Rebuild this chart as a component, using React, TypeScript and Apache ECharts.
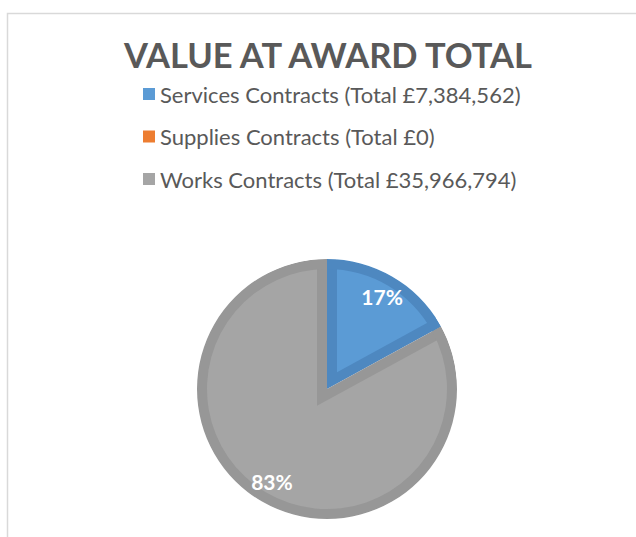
import React, { useEffect, useRef } from "react";
import * as echarts from "echarts";

const titleText = "VALUE AT AWARD TOTAL";
const categories = [
  "Services Contracts (Total £7,384,562)",
  "Supplies Contracts (Total £0)",
  "Works Contracts (Total £35,966,794)",
];
const values = [7384562, 0, 35966794];
const fillColors = ["#5B9BD5", "#ED7D31", "#A5A5A5"];
const edgeColors = ["#4E88C0", "#D5702C", "#979797"];

const FONT = "Lato";

export default function App() {
  const ref = useRef<HTMLDivElement>(null);
  useEffect(() => {
    if (!ref.current) return;
    const chart = echarts.init(ref.current, null, { renderer: "svg" });
    const cx = 327;
    const cy = 389;
    const R = 130;
    const D = 10;
    const total = values.reduce((a, b) => a + b, 0);

    const base = (colors: string[]) =>
      categories.map((name, i) => ({
        name,
        value: values[i],
        itemStyle: { color: colors[i] },
      }));

    const transparent = categories.map(() => "rgba(0,0,0,0)");

    // inset light wedges: shifted along each slice bisector
    const insetSeries: any[] = [];
    let cum = 0;
    let maxShift = 0;
    values.forEach((v, i) => {
      const frac = v / total;
      const start = cum * 2 * Math.PI;
      const end = (cum + frac) * 2 * Math.PI;
      cum += frac;
      if (v <= 0) return;
      const mid = (start + end) / 2;
      const half = (end - start) / 2;
      const s = D / Math.sin(half);
      maxShift = Math.max(maxShift, s);
      const colors = transparent.slice();
      colors[i] = fillColors[i];
      insetSeries.push({
        type: "pie",
        silent: true,
        z: 2,
        startAngle: 90,
        clockwise: true,
        center: [cx + s * Math.sin(mid), cy - s * Math.cos(mid)],
        radius: [0, R - D + s + 2],
        label: { show: false },
        labelLine: { show: false },
        data: base(colors),
      });
    });

    chart.setOption({
      animation: false,
      backgroundColor: "#ffffff",
      title: {
        text: titleText,
        left: 124,
        top: 37,
        padding: 0,
        z: 10,
        textStyle: {
          fontFamily: FONT,
          fontWeight: "bold",
          fontSize: 34.5,
          color: "#595959",
        },
      },
      legend: {
        orient: "vertical",
        left: 143,
        top: 83,
        padding: 0,
        z: 10,
        icon: "rect",
        itemWidth: 12,
        itemHeight: 12,
        itemGap: 20.5,
        itemTextGap: 3,
        selectedMode: false,
        textStyle: {
          fontFamily: FONT,
          fontSize: 22,
          lineHeight: 22,
          color: "#595959",
        },
        data: categories.map((name, i) => ({
          name,
          itemStyle: { color: fillColors[i] },
        })),
      },
      graphic: [
        {
          type: "rect",
          silent: true,
          z: 0,
          shape: { x: 7.5, y: 13.5, width: 700, height: 700 },
          style: { fill: "none", stroke: "#d9d9d9", lineWidth: 1.5 },
        },
      ],
      series: [
        {
          type: "pie",
          silent: true,
          z: 1,
          startAngle: 90,
          clockwise: true,
          center: [cx, cy],
          radius: [0, R],
          label: { show: false },
          labelLine: { show: false },
          data: base(edgeColors),
        },
        ...insetSeries,
        {
          type: "pie",
          silent: true,
          z: 3,
          startAngle: 90,
          clockwise: true,
          center: [cx, cy],
          radius: [R - D, R],
          label: { show: false },
          labelLine: { show: false },
          data: base(edgeColors),
        },
        {
          type: "pie",
          silent: true,
          z: 4,
          startAngle: 90,
          clockwise: true,
          center: [cx, cy],
          radius: [R, R - D + 2 * maxShift + 6],
          label: { show: false },
          labelLine: { show: false },
          data: [{ name: "mask", value: 1, itemStyle: { color: "#ffffff" } }],
        },
        {
          type: "pie",
          silent: true,
          z: 5,
          startAngle: 90,
          clockwise: true,
          center: [cx, cy],
          radius: [80, R],
          percentPrecision: 0,
          labelLine: { show: false },
          label: {
            show: true,
            position: "inside",
            formatter: "{d}%",
            color: "#ffffff",
            fontFamily: FONT,
            fontWeight: "bold",
            fontSize: 21,
          },
          data: categories.map((name, i) => ({
            name,
            value: values[i],
            itemStyle: { color: "rgba(0,0,0,0)" },
            label: { show: values[i] > 0 },
          })),
        },
      ],
    });
    return () => chart.dispose();
  }, []);
  return (
    <div
      ref={ref}
      style={{ position: "fixed", left: 0, top: 0, width: 636, height: 537 }}
    />
  );
}
